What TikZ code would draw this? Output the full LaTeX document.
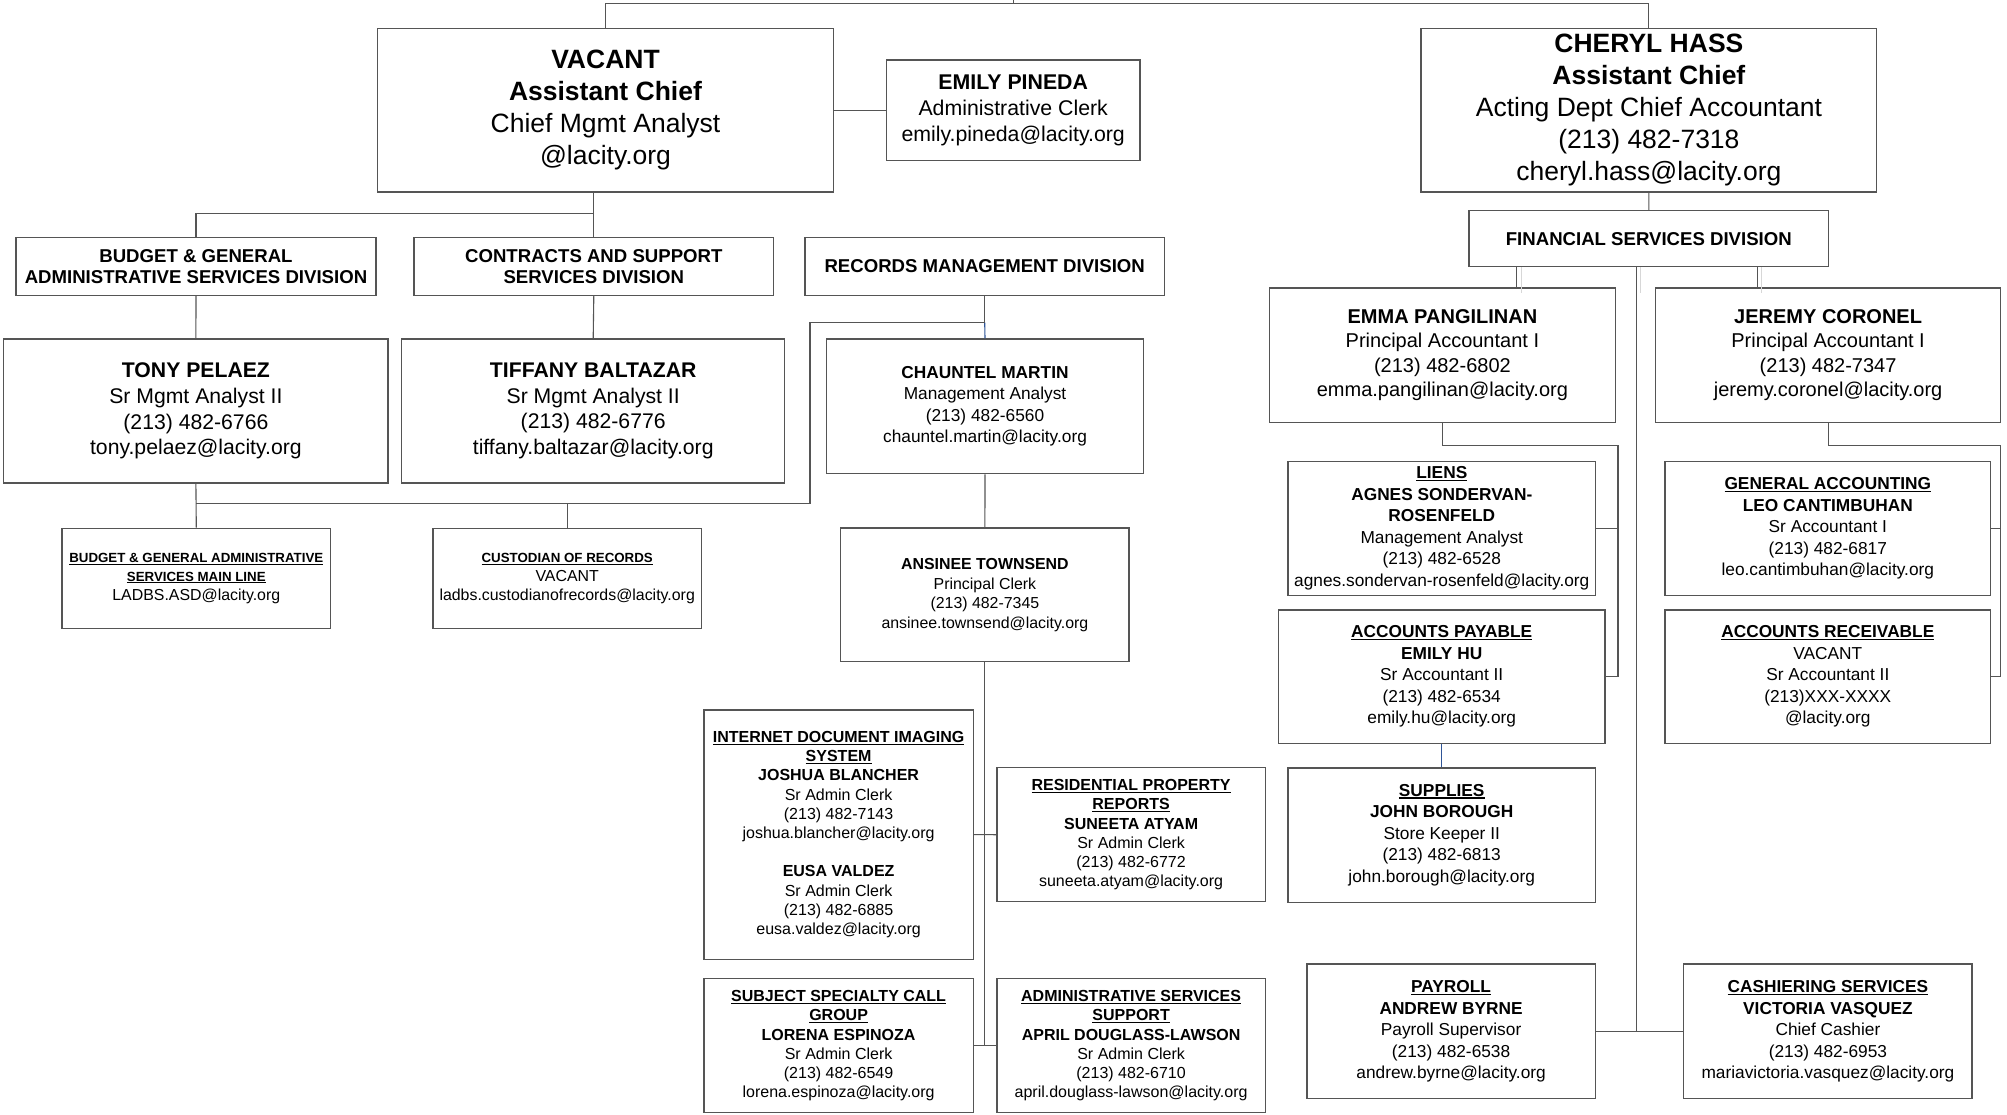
\documentclass[tikz,border=0pt]{standalone}
\usepackage{fontspec}
\setmainfont{Liberation Sans}
\definecolor{lc}{RGB}{85,85,85}
\definecolor{bc}{RGB}{47,85,151}
\definecolor{gc}{RGB}{215,215,215}
\newcommand{\myul}[1]{\leavevmode\setbox0\hbox{#1}\rlap{\rule[-0.13em]{\wd0}{0.07em}}\box0}
\newcommand{\FntBig}{\fontsize{26.5}{32}\selectfont}
\newcommand{\FntPin}{\fontsize{21.3}{26}\selectfont}
\newcommand{\FntDiv}{\fontsize{18.6}{21.8}\selectfont\bfseries}
\newcommand{\FntTony}{\fontsize{21.2}{25.6}\selectfont}
\newcommand{\FntEmma}{\fontsize{20}{24.3}\selectfont}
\newcommand{\FntMid}{\fontsize{17.3}{21.5}\selectfont}
\newcommand{\FntCha}{\fontsize{17.3}{21.3}\selectfont}
\newcommand{\FntAns}{\fontsize{15.9}{19.6}\selectfont}
\newcommand{\FntSm}{\fontsize{16}{19.2}\selectfont}
\newcommand{\FntLine}{\fontsize{15.9}{18.7}\selectfont}
\newcommand{\hdr}[1]{\leavevmode{\fontsize{13.3}{18.7}\selectfont\bfseries\myul{#1}}}
\tikzset{
  box/.style={draw=lc, line width=1.2pt, align=center, inner sep=0pt, text=black},
  conn/.style={draw=lc, line width=1.1pt},
  bconn/.style={draw=bc, line width=1.1pt},
  ghost/.style={draw=gc, line width=1pt}
}
% \bx{font}{name}{cx}{cy}{w}{h}{text}
\newcommand{\bx}[7]{\node[box, font=#1, minimum width=#5pt, minimum height=#6pt] (#2) at (#3,#4) {#7};}
\begin{document}
\begin{tikzpicture}[x=1pt,y=-1pt]
\fill[white] (0,0) rectangle (2007,1114);
\useasboundingbox (0,0) rectangle (2007,1114);

% top level
\bx{\FntBig}{vac}{605.5}{110.4}{455.9}{163.3}
  {\textbf{VACANT}\\\textbf{Assistant Chief}\\Chief Mgmt Analyst\\@lacity.org}
\bx{\FntPin}{pin}{1013.2}{110.4}{253.5}{100.7}
  {\textbf{EMILY PINEDA}\\Administrative Clerk\\emily.pineda@lacity.org}
\bx{\FntBig}{che}{1648.9}{110.4}{455.7}{163.3}
  {\textbf{CHERYL HASS}\\\textbf{Assistant Chief}\\Acting Dept Chief Accountant\\(213) 482-7318\\cheryl.hass@lacity.org}

% divisions
\bx{\FntDiv}{bud}{196}{266.5}{360}{57.6}
  {BUDGET \& GENERAL\\ADMINISTRATIVE SERVICES DIVISION}
\bx{\FntDiv}{con}{593.8}{266.5}{359.6}{57.6}
  {CONTRACTS AND SUPPORT\\SERVICES DIVISION}
\bx{\FntDiv}{rec}{984.7}{266.5}{359.4}{57.6}
  {RECORDS MANAGEMENT DIVISION}
\bx{\FntDiv}{fin}{1648.8}{238.7}{359.5}{56}
  {FINANCIAL SERVICES DIVISION}

% left branch
\bx{\FntTony}{tony}{195.9}{411}{384.3}{144}
  {\textbf{TONY PELAEZ}\\Sr Mgmt Analyst II\\(213) 482-6766\\tony.pelaez@lacity.org}
\bx{\FntTony}{tif}{593.2}{411}{382.9}{144}
  {\textbf{TIFFANY BALTAZAR}\\Sr Mgmt Analyst II\\(213) 482-6776\\tiffany.baltazar@lacity.org}
\bx{\FntCha}{cha}{985}{406.3}{317}{134.7}
  {\textbf{CHAUNTEL MARTIN}\\Management Analyst\\(213) 482-6560\\chauntel.martin@lacity.org}
\bx{\FntLine}{bml}{196.3}{578.5}{268.6}{100.4}
  {\hdr{BUDGET \& GENERAL ADMINISTRATIVE}\\\hdr{SERVICES MAIN LINE}\\LADBS.ASD@lacity.org}
\bx{\FntLine}{cus}{567.2}{578.5}{268.5}{100.4}
  {\hdr{CUSTODIAN OF RECORDS}\\VACANT\\ladbs.custodianofrecords@lacity.org}
\bx{\FntAns}{ans}{984.9}{594.9}{288.2}{133.8}
  {\textbf{ANSINEE TOWNSEND}\\Principal Clerk\\(213) 482-7345\\ansinee.townsend@lacity.org}

\bx{\FntSm}{idis}{838.6}{834.6}{269.2}{249.3}
  {\textbf{\myul{INTERNET DOCUMENT IMAGING}}\\\textbf{\myul{SYSTEM}}\\\textbf{JOSHUA BLANCHER}\\Sr Admin Clerk\\(213) 482-7143\\joshua.blancher@lacity.org\\[19.2pt]\textbf{EUSA VALDEZ}\\Sr Admin Clerk\\(213) 482-6885\\eusa.valdez@lacity.org}
\bx{\FntSm}{rpr}{1131.1}{834.7}{268.2}{134}
  {\textbf{\myul{RESIDENTIAL PROPERTY}}\\\textbf{\myul{REPORTS}}\\\textbf{SUNEETA ATYAM}\\Sr Admin Clerk\\(213) 482-6772\\suneeta.atyam@lacity.org}
\bx{\FntSm}{ssc}{838.6}{1045.7}{269.2}{134}
  {\textbf{\myul{SUBJECT SPECIALTY CALL}}\\\textbf{\myul{GROUP}}\\\textbf{LORENA ESPINOZA}\\Sr Admin Clerk\\(213) 482-6549\\lorena.espinoza@lacity.org}
\bx{\FntSm}{ass}{1131.1}{1045.7}{268.2}{134}
  {\textbf{\myul{ADMINISTRATIVE SERVICES}}\\\textbf{\myul{SUPPORT}}\\\textbf{APRIL DOUGLASS-LAWSON}\\Sr Admin Clerk\\(213) 482-6710\\april.douglass-lawson@lacity.org}

% right branch
\bx{\FntEmma}{emma}{1442.4}{355.1}{345.8}{134.3}
  {\textbf{EMMA PANGILINAN}\\Principal Accountant I\\(213) 482-6802\\emma.pangilinan@lacity.org}
\bx{\FntEmma}{jer}{1828.1}{355.1}{345.4}{134.3}
  {\textbf{JEREMY CORONEL}\\Principal Accountant I\\(213) 482-7347\\jeremy.coronel@lacity.org}
\bx{\FntMid}{lie}{1441.8}{528.3}{307.7}{133.7}
  {\textbf{\myul{LIENS}}\\\textbf{AGNES SONDERVAN-}\\\textbf{ROSENFELD}\\Management Analyst\\(213) 482-6528\\agnes.sondervan-rosenfeld@lacity.org}
\bx{\FntMid}{ap}{1441.7}{676.7}{326.5}{133.5}
  {\textbf{\myul{ACCOUNTS PAYABLE}}\\\textbf{EMILY HU}\\Sr Accountant II\\(213) 482-6534\\emily.hu@lacity.org}
\bx{\FntMid}{ga}{1827.8}{528.3}{325.7}{133.7}
  {\textbf{\myul{GENERAL ACCOUNTING}}\\\textbf{LEO CANTIMBUHAN}\\Sr Accountant I\\(213) 482-6817\\leo.cantimbuhan@lacity.org}
\bx{\FntMid}{ar}{1827.8}{676.7}{325.7}{133.5}
  {\textbf{\myul{ACCOUNTS RECEIVABLE}}\\VACANT\\Sr Accountant II\\(213)XXX-XXXX\\@lacity.org}
\bx{\FntMid}{sup}{1441.7}{835.1}{307.5}{134.3}
  {\textbf{\myul{SUPPLIES}}\\\textbf{JOHN BOROUGH}\\Store Keeper II\\(213) 482-6813\\john.borough@lacity.org}
\bx{\FntMid}{pay}{1451.1}{1031.3}{288.3}{134.7}
  {\textbf{\myul{PAYROLL}}\\\textbf{ANDREW BYRNE}\\Payroll Supervisor\\(213) 482-6538\\andrew.byrne@lacity.org}
\bx{\FntMid}{cas}{1827.9}{1031.3}{288.2}{134.7}
  {\textbf{\myul{CASHIERING SERVICES}}\\\textbf{VICTORIA VASQUEZ}\\Chief Cashier\\(213) 482-6953\\mariavictoria.vasquez@lacity.org}

% helper coordinates
\coordinate (ytop) at (0,3.3);
\coordinate (tick) at (1013.3,0);
\coordinate (yv) at (0,213.7);
\coordinate (yr) at (0,322.7);
\coordinate (rb) at (810,503.7);
\coordinate (ej) at (1618,445.5);
\coordinate (jj) at (2000.7,445.5);
\coordinate (fm) at (1636.7,0);
\coordinate (fl) at (1516.7,0);
\coordinate (fr) at (1757.3,0);
\coordinate (gm) at (1640.5,0);
\coordinate (gl) at (1521.5,0);
\coordinate (gr) at (1761.5,0);
\coordinate (gy) at (0,293);

% connectors
\draw[conn] (vac.north) -- (vac.north |- ytop) -- (che.north |- ytop) -- (che.north);
\draw[conn] (tick) -- (tick |- ytop);
\draw[conn] (vac.east) -- (pin.west);
\draw[conn] (vac.south -| con.north) -- (con.north);
\draw[conn] (con.north |- yv) -| (bud.north);
\draw[conn] (bud.south) -- (tony.north);
\draw[conn] (con.south) -- (tif.north);
\draw[conn] (rec.south) -- (rec.south |- yr);
\draw[bconn] (rec.south |- yr) -- (cha.north);
\draw[conn] (rec.south |- yr) -| (rb) -- (rb -| tony.south);
\draw[conn] (tony.south) -- (bml.north);
\draw[conn] (cus.north) -- (cus.north |- rb);
\draw[conn] (cha.south) -- (ans.north);
\draw[conn] (ans.south) -- (ans.south |- ssc.east);
\draw[conn] (idis.east) -- (rpr.west);
\draw[conn] (ssc.east) -- (ass.west);

\draw[conn] (che.south) -- (fin.north);
\draw[ghost] (fin.south -| gl) -- (gl |- gy);
\draw[ghost] (fin.south -| gm) -- (gm |- gy);
\draw[ghost] (fin.south -| gr) -- (gr |- gy);
\draw[conn] (fin.south -| fl) -- (emma.north -| fl);
\draw[conn] (fin.south -| fr) -- (jer.north -| fr);
\draw[conn] (fin.south -| fm) -- (fm |- pay.east);
\draw[conn] (pay.east) -- (cas.west);
\draw[conn] (emma.south) |- (ej) |- (ap.east);
\draw[conn] (lie.east) -- (lie.east -| ej);
\draw[conn] (jer.south) |- (jj) |- (ar.east);
\draw[conn] (ga.east) -- (ga.east -| jj);
\draw[bconn] (ap.south) -- (sup.north);
\end{tikzpicture}
\end{document}
